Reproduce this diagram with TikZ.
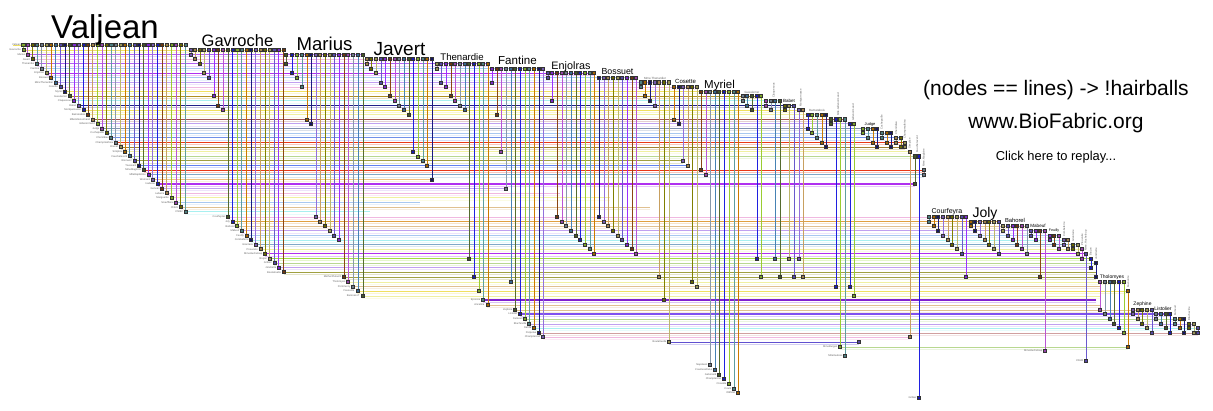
\documentclass[tikz,border=0pt]{standalone}
\usepackage{fontspec}
\setmainfont{Liberation Sans}
\usetikzlibrary{calc}
\definecolor{p0}{HTML}{9B30FF}\definecolor{p1}{HTML}{808000}
\definecolor{p2}{HTML}{1A1A80}\definecolor{p3}{HTML}{9ACD32}
\definecolor{p4}{HTML}{4682B4}\definecolor{p5}{HTML}{8B4513}
\definecolor{p6}{HTML}{BDB76B}\definecolor{p7}{HTML}{9370DB}
\definecolor{p8}{HTML}{5F9EA0}\definecolor{p9}{HTML}{556B2F}
\definecolor{p10}{HTML}{BA55D3}\definecolor{p11}{HTML}{6A5ACD}
\definecolor{p12}{HTML}{C8A060}\definecolor{p13}{HTML}{CC7A00}
\definecolor{p14}{HTML}{2020E0}\definecolor{p15}{HTML}{8899AA}
\definecolor{rA}{HTML}{F0E060}\definecolor{rB}{HTML}{B060F0}
\definecolor{rC}{HTML}{F0B8E0}\definecolor{rD}{HTML}{A8C8F0}
\definecolor{rE}{HTML}{C0A0F0}\definecolor{rF}{HTML}{B09020}
\definecolor{rG}{HTML}{A8F0F0}\definecolor{rH}{HTML}{202088}
\definecolor{rI}{HTML}{F0F0A0}\definecolor{rJ}{HTML}{A05050}
\definecolor{rK}{HTML}{8090B0}\definecolor{rL}{HTML}{7090E8}
\definecolor{rM}{HTML}{E83818}\definecolor{rN}{HTML}{A08030}
\definecolor{rO}{HTML}{B8D890}\definecolor{rP}{HTML}{6080F0}
\definecolor{rQ}{HTML}{80A8C8}\definecolor{rR}{HTML}{F0C080}
\definecolor{rS}{HTML}{B030F0}\definecolor{rT}{HTML}{E0C090}
\definecolor{rU}{HTML}{E0A040}\definecolor{rV}{HTML}{A0E040}
\definecolor{rW}{HTML}{A0A040}\definecolor{rX}{HTML}{8020D0}
\definecolor{rZ}{HTML}{8050F0}\definecolor{rRose}{HTML}{D0A0A0}
\definecolor{rSlate}{HTML}{6050D0}

% one hub: #1 name, #2 hub row y, #3 list x/ybottom, #4 colour offset, #5 pass
\newcommand\fabhub[5]{%
 \foreach \hx/\hy [count=\hi] in {#3} {%
  \pgfmathtruncatemacro\hci{mod(\hi*5+#4,16)}%
  \ifcase#5\relax
   \coordinate (#1t\hi) at (\hx,#2); \coordinate (#1b\hi) at (\hx,\hy);
  \or
   \draw[vcol=p\hci] (#1t\hi) -- (#1b\hi);
  \or
   \node[hsq=p\hci] (#1T\hi) at (#1t\hi) {}; \node[dsq=p\hci] (#1B\hi) at (#1b\hi) {};
  \fi
 }}

\newcommand\allhubs[1]{%
\fabhub{gav}{50}{191/54.6, 195/59.2, 200/63.9, 204/73.1, 209/77.7, 214/96.2, 218/105.4, 223/110.1}{2}{#1}%
\fabhub{mar}{54.6}{286/63.9, 292/73.1, 297/77.7, 302/87, 307/119.3, 311/123.9, 316/217, 320/221.6, 325/226.2, 330/230.8, 334/235.4, 339/240, 344/277, 348/282, 353/286.5, 358/291, 363/296}{4}{#1}%
\fabhub{jav}{59.2}{367/63.9, 371/68.5, 376/73.1, 381/82.3, 385/87, 390/96.2, 395/100.8, 399/105.4, 404/110.1, 409/114.7, 413/151.6, 418/156.3, 423/160.9, 427/165.5, 432/179.4}{7}{#1}%
\fabhub{the}{63.9}{437/68.5, 441/82.3, 446/87, 451/96.2, 455/100.8, 460/105.4, 465/110.1, 469/258.4, 474/277, 479/291, 483/300, 488/305}{1}{#1}%
\fabhub{fan}{68.5}{492/82.3, 497/114.7, 501/151.6, 506/188.6, 511/282, 515/310, 520/314, 525/319, 529/324, 534/328, 539/333, 543/337}{11}{#1}%
\fabhub{enj}{73.1}{548/77.7, 552/100.8, 557/217, 562/221.6, 566/226.2, 571/230.8, 576/235.4, 580/240, 585/244.6, 590/249.2, 594/253.8}{6}{#1}%
\fabhub{bos}{77.7}{599/217, 604/221.6, 608/226.2, 613/230.8, 618/235.4, 622/240, 627/244.6, 632/249.2, 636/253.8}{13}{#1}%
\fabhub{mth}{82.3}{641/87, 645/96.2, 650/100.8, 655/105.4, 659/277, 664/300, 669/342}{3}{#1}%
\fabhub{cos}{87}{674/119.3, 679/123.9, 683/160.9, 688/165.5, 692/282, 697/286.5}{8}{#1}%
\fabhub{myr}{91.6}{701/170.1, 706/174.7, 710/365, 715/370, 719/374.5, 724/379, 729/384, 734/388.5, 738/393}{0}{#1}%
\fabhub{gue}{96.2}{743/100.8, 747/105.4, 752/110.1, 757/258.4, 761/277}{10}{#1}%
\fabhub{cla}{100.8}{766/105.4, 771/110.1, 775/258.4, 780/277}{5}{#1}%
\fabhub{bab}{105.4}{785/110.1, 789/258.4, 794/277}{12}{#1}%
\fabhub{mon}{110.1}{799/258.4, 803/277}{2}{#1}%
\fabhub{bam}{114.7}{808/128.5, 812/133.2, 817/137.8, 822/142.4, 826/147}{9}{#1}%
\fabhub{mlg}{119.3}{831/123.9, 836/286.5, 840/347, 845/356}{4}{#1}%
\fabhub{gil}{123.9}{850/286.5, 854/296}{9}{#1}%
\fabhub{jud}{128.5}{863/133.2, 868/137.8, 873/142.4, 877/147}{14}{#1}%
\fabhub{coc}{133.2}{882/137.8, 887/142.4, 891/147}{3}{#1}%
\fabhub{che}{137.8}{896/142.4, 901/147}{7}{#1}%
\fabhub{cha}{142.4}{905/147}{1}{#1}%
\fabhub{sim}{151.6}{910/337}{7}{#1}%
\fabhub{fau}{156.3}{915/184, 919/398}{4}{#1}%
\fabhub{mag}{170.1}{924/174.7}{10}{#1}%
\fabhub{cou}{217}{929/221.6, 934/226.2, 938/230.8, 943/235.4, 948/240, 952/244.6, 957/249.2, 962/253.8, 966/277}{3}{#1}%
\fabhub{jol}{221.6}{971/226.2, 975/230.8, 980/235.4, 985/240, 989/244.6, 994/249.2, 999/253.8}{8}{#1}%
\fabhub{bah}{226.2}{1003/230.8, 1008/235.4, 1013/240, 1017/244.6, 1022/249.2, 1027/253.8}{1}{#1}%
\fabhub{mab}{230.8}{1031/235.4, 1036/240, 1040/277, 1045/351}{6}{#1}%
\fabhub{feu}{235.4}{1050/240, 1054/244.6, 1059/249.2}{11}{#1}%
\fabhub{com}{240}{1064/244.6, 1068/249.2}{2}{#1}%
\fabhub{gra}{244.6}{1073/249.2, 1078/253.8}{12}{#1}%
\fabhub{pro}{249.2}{1082/258.4}{5}{#1}%
\fabhub{huc}{253.8}{1086/361}{6}{#1}%
\fabhub{bru}{258.4}{1091/267.6}{9}{#1}%
\fabhub{gri}{263}{1096/277}{13}{#1}%
\fabhub{tho}{282}{1100/310, 1105/314, 1110/319, 1114/324, 1119/328, 1124/333}{5}{#1}%
\fabhub{fav}{291}{1128/347}{8}{#1}%
\fabhub{zep}{310}{1133/314, 1138/319, 1142/324, 1147/328, 1152/333}{2}{#1}%
\fabhub{lis}{314}{1156/319, 1161/324, 1166/328, 1170/333}{10}{#1}%
\fabhub{fam}{319}{1175/324, 1180/328, 1184/333}{3}{#1}%
\fabhub{bla}{324}{1189/328, 1194/333}{12}{#1}%
\fabhub{dah}{328}{1198/333}{6}{#1}%
}

\newcommand\vallist{284/rA/0.9pt/Gavroche, 363/rB/0.9pt/Marius, 432/rC/0.9pt/Javert, 488/rB/0.9pt/Thenardier, 543/rD/0.9pt/Fantine, 594/rS/0.9pt/Enjolras, 636/rD/0.9pt/Bossuet, 669/rE/0.9pt/MmeThenardier, 697/rC/0.9pt/Cosette, 738/rA/0.9pt/Myriel, 761/rF/0.9pt/Gueulemer, 780/rG/0.9pt/Claquesous, 794/rH/1.2pt/Babet, 803/rA/0.9pt/Montparnasse, 826/rI/0.9pt/Bamatabois, 845/rJ/0.9pt/MlleGillenormand, 854/rE/0.9pt/Gillenormand, 877/rK/0.9pt/Judge, 891/rD/0.9pt/Cochepaille, 901/rL/0.9pt/Chenildieu, 905/rM/0.9pt/Champmathieu, 905/rN/0.9pt/Brevet, 910/rI/0.9pt/Simplice, 919/rO/0.9pt/Fauchelevent, 683/rW/0.9pt/Woman2, 688/rP/1.3pt/Toussaint, 924/rM/1.2pt/MmeMagloire, 924/rQ/0.9pt/MlleBaptistine, 432/rR/1.3pt/Woman1, 915/rS/1.1pt/Isabeau, 506/rE/0.9pt/Gervais, 560/rC/0.9pt/Labarre, 610/rI/0.9pt/Marguerite, 420/rD/0.9pt/Scaufflaire, 650/rT/0.9pt/Child1, 370/rG/0.9pt/Child2}
\newcommand\valpass[1]{%
 \foreach \ve/\vc/\vw/\vl [count=\i from 0] in \vallist {%
  \pgfmathsetmacro\xx{23.3+4.63*\i}%
  \pgfmathsetmacro\yy{50+4.62*\i}%
  \pgfmathtruncatemacro\hci{mod(\i*7+3,16)}%
  \ifcase#1\relax
   \coordinate (vt\i) at (\xx,45); \coordinate (vb\i) at (\xx,\yy); \coordinate (ae\i) at (\ve,\yy);
   \draw[hrow=\vc,line width=\vw] (vb\i) -- (ae\i);
   \draw[prow=\vc] ([yshift=-2.3pt]vb\i) -- ([yshift=-2.3pt]ae\i);
  \or
   \draw[vcol=p\hci] (vt\i) -- (vb\i);
  \or
   \node[hsq=p\hci] (VT\i) at (vt\i) {}; \node[dsq=p\hci] (VB\i) at (vb\i) {};
   \node[tlab] (al\i) at ([xshift=-2.4pt]vb\i) {\vl};
  \fi
 }}

\newcommand\gavlist{966/rC/Courfeyrac, 999/rU/Joly, 1027/rT/Bahorel, 1045/rE/Mabeuf, 1059/rD/Feuilly, 1068/rG/Combeferre, 1078/rQ/Grantaire, 1082/rI/Prouvaire, 1086/rS/MmeHucheloup, 1091/rV/Brujon, 1096/rO/Gribier, 1091/rE/Jondrette, 1096/rW/Boulatruelle}
\newcommand\gavpass[1]{%
 \foreach \ve/\vc/\vl [count=\j from 0] in \gavlist {%
  \pgfmathsetmacro\xx{228+4.63*\j}%
  \pgfmathsetmacro\yy{217+4.6*\j}%
  \pgfmathtruncatemacro\hci{mod(\j*5+9,16)}%
  \ifcase#1\relax
   \coordinate (gt\j) at (\xx,50); \coordinate (gb\j) at (\xx,\yy); \coordinate (be\j) at (\ve,\yy);
   \draw[hrow=\vc] (gb\j) -- (be\j);
   \draw[prow=\vc] ([yshift=-2.3pt]gb\j) -- ([yshift=-2.3pt]be\j);
  \or
   \draw[vcol=p\hci] (gt\j) -- (gb\j);
  \or
   \node[hsq=p\hci] (GT\j) at (gt\j) {}; \node[dsq=p\hci] (GB\j) at (gb\j) {};
   \node[tlab] (bl\j) at ([xshift=-2.4pt]gb\j) {\vl};
  \fi
 }}

\begin{document}
\begin{tikzpicture}[x=1pt,y=-1pt,
 hsq/.style={rectangle,draw=black!80,fill=#1!80!black,minimum size=3.1pt,inner sep=0pt,line width=0.55pt},
 dsq/.style={rectangle,draw=black!80,fill=#1!80!black,minimum size=3pt,inner sep=0pt,line width=0.55pt},
 vcol/.style={draw=#1,line width=0.9pt},
 hrow/.style={draw=#1,line width=0.9pt},
 prow/.style={draw=#1!28!white,line width=0.9pt},
 tlab/.style={font=\fontsize{2.6}{2.6}\selectfont,text=black!60,anchor=east,inner sep=0pt},
 rlab/.style={font=\fontsize{2.8}{2.8}\selectfont,text=black!60,rotate=90,anchor=west,inner sep=0pt},
 blab/.style={font=\fontsize{#1}{#1}\selectfont,anchor=base,inner sep=0pt},
]
\fill[white] (0,0) rectangle (1213,410);
\useasboundingbox (0,0) rectangle (1213,410);

% ---------- pass 0: coordinates and node rows ----------
\valpass{0}
\coordinate (vrs) at (13,45);
\draw[hrow=rA] (vrs) -- (vt35);
\gavpass{0}
\foreach \yy/\xs/\ve/\vc/\vw/\vl [count=\k] in {277/344/1096/rW/0.9pt/MotherPlutarch, 282/348/1124/rI/0.9pt/Tholomyes, 286.5/353/1100/rT/0.9pt/Pontmercy, 291/357/1128/rA/0.9pt/Favourite, 296/362/1100/rI/0.9pt/BaronessT, 300/483/1096/rX/1.3pt/Eponine, 305/487/1100/rT/0.9pt/Anzelma, 310/515/1152/rT/0.9pt/Zephine, 314/520/1170/rZ/1.1pt/Listolier, 319/525/1184/rO/0.9pt/Fameuil, 324/529/1194/rE/0.9pt/Blacheville, 328/534/1198/rG/0.9pt/Dahlia, 333/539/1198/rRose/0.9pt/Perpetue, 337/543/910/rC/0.9pt/Champtercier, 342/669/859/rSlate/1pt/Boulatruelle, 347/840/1128/rO/0.9pt/MmeBurgon}{
 \coordinate (cs\k) at (\xs,\yy);
 \coordinate (ce\k) at (\ve,\yy);
 \node[tlab] (cl\k) at ([xshift=-2.4pt]cs\k) {\vl};
 \draw[hrow=\vc,line width=\vw] (cs\k) -- (ce\k);
 \draw[prow=\vc] ([yshift=-2.3pt]cs\k) -- ([yshift=-2.3pt]ce\k);
}
\allhubs{0}

% ---------- pass 1: edge columns ----------
\valpass{1}
\gavpass{1}
\allhubs{1}

% ---------- pass 2: squares and row labels ----------
\valpass{2}
\gavpass{2}
\allhubs{2}
\node[dsq=p11] (endbou) at (ce15) {};
\node[tlab] (lmy3) at ([xshift=-2.4pt]myrb3) {Napoleon};
\node[tlab] (lmy4) at ([xshift=-2.4pt]myrb4) {CountessDeLo};
\node[tlab] (lmy5) at ([xshift=-2.4pt]myrb5) {Geborand};
\node[tlab] (lmy6) at ([xshift=-2.4pt]myrb6) {Champtercier};
\node[tlab] (lmy7) at ([xshift=-2.4pt]myrb7) {Cravatte};
\node[tlab] (lmy8) at ([xshift=-2.4pt]myrb8) {Count};
\node[tlab] (lmy9) at ([xshift=-2.4pt]myrb9) {OldMan};
\node[tlab] (lmlg) at ([xshift=-2.4pt]mlgb4) {MlleVaubois};
\node[tlab] (lmab) at ([xshift=-2.4pt]mabb4) {MmeHucheloup};
\node[tlab] (lhuc) at ([xshift=-2.4pt]hucb1) {Child2};
\node[tlab] (lfau) at ([xshift=-2.4pt]faub2) {Gribier};
\node[tlab] (lval) at ([xshift=-2.4pt]vt0) {Valjean};

% ---------- hub labels ----------
\node[blab=33] (Lval) at (105,38) {Valjean};
\node[blab=16.5] (Lgav) at (237.5,46) {Gavroche};
\node[blab=18.6] (Lmar) at (324.5,50.5) {Marius};
\node[blab=19] (Ljav) at (399.5,55) {Javert};
\node[blab=9.6] (Lthe) at (462,60) {Thenardie};
\node[blab=11.6] (Lfan) at (517.5,64.5) {Fantine};
\node[blab=10.8] (Lenj) at (571,69) {Enjolras};
\node[blab=8.8] (Lbos) at (617.5,74) {Bossuet};
\node[blab=3,text=black!60] (Lmth) at (655,79) {Mme.Thenardier};
\node[blab=6] (Lcos) at (685.5,83.5) {Cosette};
\node[blab=11.5] (Lmyr) at (719.5,88) {Myriel};
\node[blab=3,text=black!60] (Lgue) at (752,93) {Gueulemer};
\node[rlab] (Lcla) at (774,98) {Claquesous};
\node[blab=4.5] (Lbab) at (789,102) {Babet};
\node[rlab] (Lmon) at (801,107) {Montparnasse};
\node[blab=3,text=black!60] (Lbam) at (817,111) {Bamatabois};
\node[rlab] (Lmlg) at (838,116) {Mlle.Gillenormand};
\node[rlab] (Lgil) at (853,121) {Gillenormand};
\node[blab=4] (Ljud) at (870,125.5) {Judge};
\node[rlab] (Lcoc) at (882,130) {Cochepaille};
\node[rlab] (Lche) at (896,135) {Chenildieu};
\node[rlab] (Lcha) at (905,139) {Champmathieu};
\node[rlab] (Lsim) at (910,149) {Simplice};
\node[rlab] (Lfau) at (917,153) {Fauchelevent};
\node[rlab] (Lmag) at (924,167) {Mme.Magloire};
\node[blab=7] (Lcou) at (947,213.5) {Courfeyra};
\node[blab=14] (Ljol) at (985,217.5) {Joly};
\node[blab=5.8] (Lbah) at (1015,222.5) {Bahorel};
\node[blab=4.6] (Lmab) at (1038,227) {Mabeuf};
\node[blab=3.6] (Lfeu) at (1054,231.5) {Feuilly};
\node[rlab] (Lcom) at (1064,237) {Combeferre};
\node[rlab] (Lgra) at (1073,242) {Grantaire};
\node[rlab] (Lpro) at (1082,246) {Prouvaire};
\node[rlab] (Lhuc) at (1086,251) {Mme.Hucheloup};
\node[rlab] (Lbru) at (1091,256) {Brujon};
\node[rlab] (Lgri) at (1096,260) {Jondrette};
\node[blab=5] (Ltho) at (1112,278) {Tholomyes};
\node[rlab] (Lfav) at (1128,288) {Favourite};
\node[blab=5] (Lzep) at (1142.5,305.5) {Zephine};
\node[blab=5] (Llis) at (1163,310.5) {Listolier};
\node[rlab] (Lfam) at (1175,316) {Fameuil};
\node[rlab] (Lbla) at (1189,321) {Blacheville};

% ---------- title texts ----------
\node[blab=21] (t1) at (1056,95) {(nodes == lines) -> !hairballs};
\node[blab=21] (t2) at (1056,128.5) {www.BioFabric.org};
\node[blab=12.9] (t3) at (1056,160.5) {Click here to replay...};
\end{tikzpicture}
\end{document}
